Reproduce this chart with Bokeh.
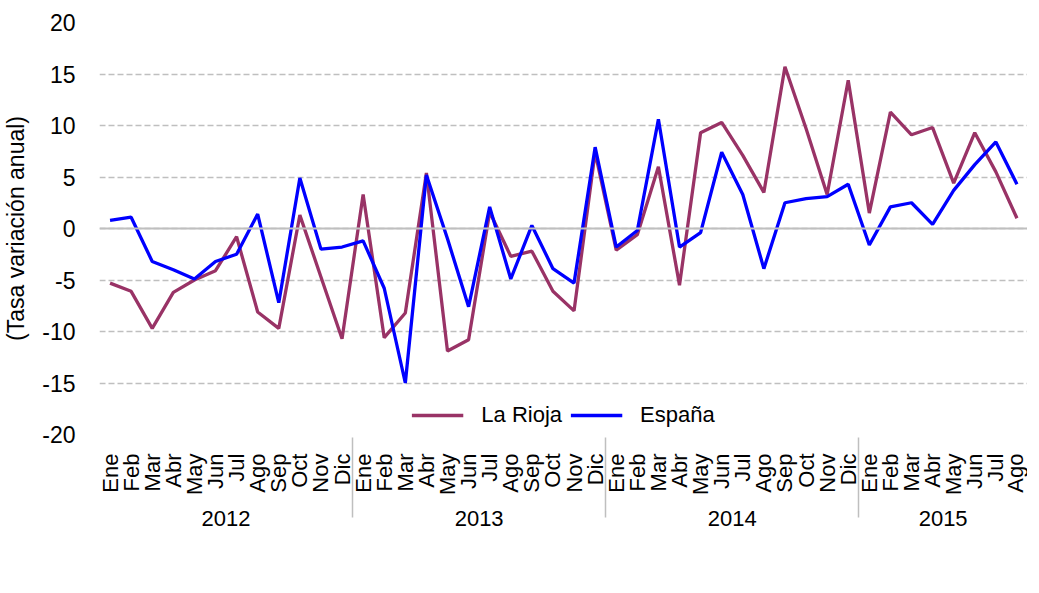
import math
from bokeh.plotting import figure
from bokeh.models import (FactorRange, Legend, LegendItem, Span, FixedTicker, ColumnDataSource,
                          CustomJSTickFormatter)
from bokeh.embed import file_html
from bokeh.resources import INLINE

years = ["2012", "2013", "2014", "2015"]
months = ["Ene", "Feb", "Mar", "Abr", "May", "Jun", "Jul", "Ago", "Sep", "Oct", "Nov", "Dic"]
months_2015 = ["Ene", "Feb", "Mar", "Abr", "May", "Jun", "Jul", "Ago"]

la_rioja = [-5.3, -6.1, -9.7, -6.2, -5.0, -4.1, -0.8, -8.1, -9.7, 1.3, -4.7, -10.7,
            3.3, -10.6, -8.2, 5.4, -11.9, -10.8, 1.6, -2.7, -2.2, -6.1, -8.0, 7.4,
            -2.1, -0.6, 6.0, -5.5, 9.3, 10.3, 7.1, 3.5, 15.7, 9.7, 3.3, 14.4,
            1.5, 11.3, 9.1, 9.8, 4.4, 9.3, 5.5, 1.0]
espana = [0.8, 1.1, -3.2, -4.0, -4.9, -3.2, -2.5, 1.4, -7.2, 4.9, -2.0, -1.8,
          -1.2, -5.8, -15.0, 5.2, -1.0, -7.6, 2.1, -4.9, 0.3, -3.9, -5.3, 7.9,
          -1.8, -0.2, 10.6, -1.8, -0.4, 7.4, 3.3, -3.9, 2.5, 2.9, 3.1, 4.3,
          -1.6, 2.1, 2.5, 0.4, 3.7, 6.2, 8.4, 4.3]
y_ticks = [-20, -15, -10, -5, 0, 5, 10, 15, 20]

year_months = [months, months, months, months_2015]
factors = [(y, m) for y, ms in zip(years, year_months) for m in ms]

src = ColumnDataSource(dict(x=factors, rioja=la_rioja, espana=espana))

FONT = "Liberation Sans"
GRID = "#BFBFBF"

p = figure(
    frame_width=928, frame_height=412,
    x_range=FactorRange(*factors, range_padding=0, group_padding=0, factor_padding=0),
    y_range=(y_ticks[0], y_ticks[-1]),
    output_backend="svg", toolbar_location=None,
    min_border_left=95, min_border_right=0, min_border_top=22, min_border_bottom=0,
)
p.outline_line_color = None
p.background_fill_color = "white"

r1 = p.line("x", "rioja", source=src, line_color="#993366", line_width=3.3)
r2 = p.line("x", "espana", source=src, line_color="#0000FF", line_width=3.3)

# grid
p.xgrid.grid_line_color = None
p.ygrid.grid_line_color = GRID
p.ygrid.grid_line_dash = "6 3"
p.ygrid.grid_line_width = 1.5
p.yaxis.ticker = FixedTicker(ticks=y_ticks)
p.yaxis.formatter = CustomJSTickFormatter(code="return tick.toString();")
zero = Span(location=0, dimension="width", line_color=GRID, line_width=2)
p.add_layout(zero)

# y axis
p.yaxis.axis_line_color = None
p.yaxis.major_tick_line_color = None
p.yaxis.minor_tick_line_color = None
p.yaxis.major_label_text_font = FONT
p.yaxis.major_label_text_font_size = "23px"
p.yaxis.major_label_text_color = "#000000"
p.yaxis.major_label_standoff = 18
p.yaxis.axis_label = "(Tasa variación anual)"
p.yaxis.axis_label_text_font = FONT
p.yaxis.axis_label_text_font_size = "23px"
p.yaxis.axis_label_text_font_style = "normal"
p.yaxis.axis_label_text_color = "#000000"
p.yaxis.axis_label_standoff = 10

# x axis (categorical, nested)
xa = p.xaxis[0]
xa.axis_line_color = None
xa.major_tick_line_color = None
xa.minor_tick_line_color = None
xa.major_label_orientation = math.pi / 2
xa.major_label_text_font = FONT
xa.major_label_text_font_size = "22px"
xa.major_label_text_color = "#000000"
xa.major_label_standoff = 13
xa.group_text_font = FONT
xa.group_text_font_size = "22px"
xa.group_text_font_style = "normal"
xa.group_text_color = "#000000"
xa.separator_line_color = GRID
xa.separator_line_width = 1.5

legend = Legend(
    items=[LegendItem(label="La Rioja", renderers=[r1]), LegendItem(label="España", renderers=[r2])],
    orientation="horizontal", location="bottom_center",
    label_text_font=FONT, label_text_font_size="22px", label_text_color="#000000",
    glyph_width=52, glyph_height=20, label_standoff=18, spacing=8, padding=2, margin=6,
    border_line_color=None, background_fill_alpha=0,
)
p.add_layout(legend, "center")

open("out.html", "w").write(file_html(p, INLINE))
